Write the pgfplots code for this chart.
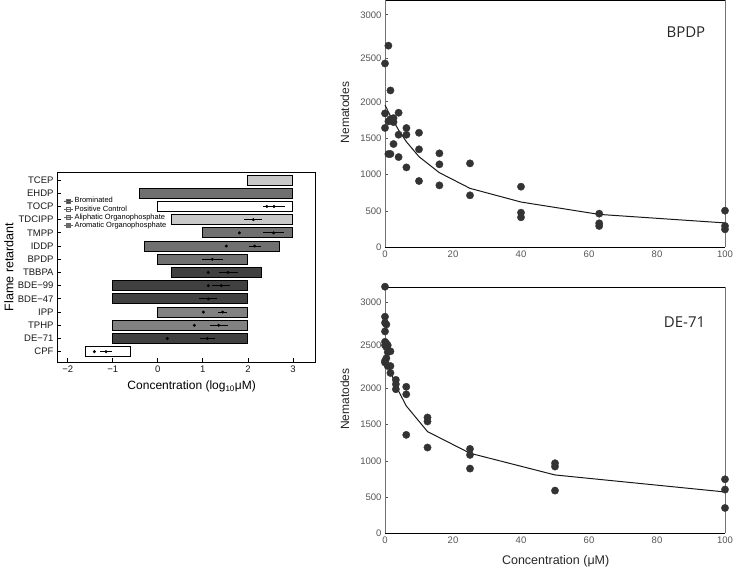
\documentclass[border=0pt]{standalone}
\usepackage{pgfplots}
\pgfplotsset{compat=1.18}
\usepackage{fontspec}
\setmainfont{Liberation Sans}
\newfontfamily\osans{Open Sans}
\definecolor{brom}{HTML}{404040}
\definecolor{arom}{HTML}{707070}
\definecolor{alip}{HTML}{C8C8C8}
\definecolor{dotc}{HTML}{333333}
\definecolor{tickgray}{HTML}{555555}

\pgfplotsset{
  rightpanel/.style={
    scale only axis, width=340pt, anchor=south west,
    xmin=0, xmax=100, ymin=0, ymax=3170,
    clip=false,
    y coord trafo/.code={\pgfmathparse{##1>2000 ? 2000+(##1-2000)*1.195 : ##1}},
    y coord inv trafo/.code={\pgfmathparse{##1>2000 ? 2000+(##1-2000)/1.195 : ##1}},
    xtick={0,20,40,60,80,100}, xticklabels={0,20,40,60,80,100},
    ytick={0,500,1000,1500,2000,2500,3000},
    yticklabels={0,500,1000,1500,2000,2500,3000},
    tick label style={font=\fontsize{9.5}{11}\selectfont, text=tickgray},
    x tick style={draw=none},
    y tick style={tickgray, line width=0.6pt},
    major tick length=3pt,
    xtick pos=bottom, ytick pos=left, tick align=inside,
    separate axis lines,
    x axis line style={black, line width=0.9pt},
    y axis line style={black!55, line width=0.9pt},
    ylabel={Nematodes},
    ylabel style={at={(axis description cs:-0.118,0.545)}, anchor=center,
      font=\fontsize{12}{14}\selectfont, text=black!85},
  },
  pts/.style={only marks, mark=*, mark size=3.7pt,
    mark options={fill=dotc, draw=dotc, line width=0.3pt}},
  fit/.style={black!90, line width=1pt, mark=none},
}

\begin{document}
\begin{tikzpicture}[x=1pt,y=1pt]
\path[use as bounding box] (0,0) rectangle (734,568);

% ---------------- left panel ----------------
\begin{axis}[
  scale only axis, width=258pt, height=190pt,
  at={(57pt,206pt)}, anchor=south west,
  xmin=-2.24, xmax=3.49, ymin=-0.78, ymax=13.61,
  xtick={-2,-1,0,1,2,3}, xticklabels={−2,−1,0,1,2,3},
  ytick={0,1,2,3,4,5,6,7,8,9,10,11,12,13},
  yticklabels={CPF,DE−71,TPHP,IPP,BDE−47,BDE−99,TBBPA,BPDP,IDDP,TMPP,TDCIPP,TOCP,EHDP,TCEP},
  tick align=inside, xtick pos=bottom, ytick pos=left, major tick length=4pt,
  tick style={black, line width=0.8pt},
  axis line style={black, line width=0.9pt},
  tick label style={font=\fontsize{9.5}{11}\selectfont, text=black!90},
  xlabel={Concentration (log\textsubscript{10}μM)},
  xlabel style={at={(axis description cs:0.522,-0.13)}, anchor=center,
    font=\fontsize{12}{14}\selectfont},
  ylabel={Flame retardant},
  ylabel style={at={(axis description cs:-0.186,0.5)}, anchor=center,
    font=\fontsize{12.5}{14}\selectfont},
  legend style={at={(axis description cs:0.027,0.872)}, anchor=north west,
    draw=none, fill=none, font=\fontsize{7.5}{8}\selectfont,
    row sep=-0.8pt, inner sep=0pt, nodes={inner sep=1pt}},
  legend cell align=left,
  legend image code/.code={\draw[#1] (2pt,-1.9pt) rectangle (5.8pt,1.9pt); \path (0pt,0pt) -- (9pt,0pt);},
]
\addlegendimage{fill=brom, draw=black!60, line width=0.4pt}
\addlegendentry{Brominated}
\addlegendimage{fill=white, draw=black!60, line width=0.4pt}
\addlegendentry{Positive Control}
\addlegendimage{fill=alip, draw=black!60, line width=0.4pt}
\addlegendentry{Aliphatic Organophosphate}
\addlegendimage{fill=arom, draw=black!60, line width=0.4pt}
\addlegendentry{Aromatic Organophosphate}

% bars: (low, high) on log10 scale
\addplot[fill=alip, draw=black, line width=0.9pt] coordinates {(2,12.62) (3,12.62) (3,13.38) (2,13.38)} -- cycle;
\addplot[fill=arom, draw=black, line width=0.9pt] coordinates {(-0.4,11.62) (3,11.62) (3,12.38) (-0.4,12.38)} -- cycle;
\addplot[fill=white, draw=black, line width=0.9pt] coordinates {(0,10.62) (3,10.62) (3,11.38) (0,11.38)} -- cycle;
\addplot[fill=alip, draw=black, line width=0.9pt] coordinates {(0.3,9.62) (3,9.62) (3,10.38) (0.3,10.38)} -- cycle;
\addplot[fill=arom, draw=black, line width=0.9pt] coordinates {(1,8.62) (3,8.62) (3,9.38) (1,9.38)} -- cycle;
\addplot[fill=arom, draw=black, line width=0.9pt] coordinates {(-0.3,7.62) (2.7,7.62) (2.7,8.38) (-0.3,8.38)} -- cycle;
\addplot[fill=arom, draw=black, line width=0.9pt] coordinates {(0,6.62) (2,6.62) (2,7.38) (0,7.38)} -- cycle;
\addplot[fill=brom, draw=black, line width=0.9pt] coordinates {(0.3,5.62) (2.3,5.62) (2.3,6.38) (0.3,6.38)} -- cycle;
\addplot[fill=brom, draw=black, line width=0.9pt] coordinates {(-1,4.62) (2,4.62) (2,5.38) (-1,5.38)} -- cycle;
\addplot[fill=brom, draw=black, line width=0.9pt] coordinates {(-1,3.62) (2,3.62) (2,4.38) (-1,4.38)} -- cycle;
\addplot[fill=arom!88!white, draw=black, line width=0.9pt] coordinates {(0,2.62) (2,2.62) (2,3.38) (0,3.38)} -- cycle;
\addplot[fill=arom!88!white, draw=black, line width=0.9pt] coordinates {(-1,1.62) (2,1.62) (2,2.38) (-1,2.38)} -- cycle;
\addplot[fill=brom, draw=black, line width=0.9pt] coordinates {(-1,0.62) (2,0.62) (2,1.38) (-1,1.38)} -- cycle;
\addplot[fill=white, draw=black, line width=0.9pt] coordinates {(-1.6,-0.38) (-0.6,-0.38) (-0.6,0.38) (-1.6,0.38)} -- cycle;

% single points
\addplot[only marks, mark=*, mark size=1.3pt, black] table[row sep=\\] {
x y \\
2.42 11 \\ 1.81 9 \\ 1.52 8 \\ 1.12 6 \\ 1.12 5 \\ 1.01 3 \\ 0.81 2 \\ 0.21 1 \\ -1.41 0 \\
};
% points with error bars
\addplot[only marks, mark=*, mark size=1.3pt, black,
  error bars/.cd, x dir=both, x explicit, error mark=none,
  error bar style={line width=0.8pt, black}]
  table[row sep=\\, x=x, y=y, x error=e] {
x y e \\
2.58 11 0.25 \\
2.12 10 0.20 \\
2.57 9 0.24 \\
2.15 8 0.13 \\
1.21 7 0.23 \\
1.56 6 0.21 \\
1.41 5 0.20 \\
1.12 4 0.20 \\
1.44 3 0.10 \\
1.35 2 0.20 \\
1.10 1 0.16 \\
-1.15 0 0.14 \\
};
\end{axis}

% ---------------- top right: BPDP ----------------
\begin{axis}[rightpanel, height=247.3pt, at={(385pt,320.7pt)}]
\addplot[pts] table[row sep=\\] {
x y \\
0 2440 \\ 0 1840 \\ 0 1640 \\
1 2645 \\ 1 1730 \\ 1 1282 \\
1.6 2130 \\ 1.6 1762 \\ 1.6 1282 \\
2.5 1775 \\ 2.5 1720 \\ 2.5 1419 \\
4 1849 \\ 4 1547 \\ 4 1240 \\
6.3 1639 \\ 6.3 1547 \\ 6.3 1098 \\
10 1574 \\ 10 1346 \\ 10 911 \\
16 1291 \\ 16 1140 \\ 16 851 \\
25 1153 \\ 25 714 \\
40 833 \\ 40 476 \\ 40 412 \\
63 462 \\ 63 330 \\ 63 293 \\
100 503 \\ 100 293 \\ 100 247 \\
};
\addplot[fit] coordinates {(0,1954) (1,1860) (1.6,1805) (2.5,1735) (4,1610) (6.3,1450) (10,1245) (16,1025) (25,810) (40,622) (63,452) (100,335)};
\node[font=\osans\fontsize{15}{18}\selectfont, text=black!85] at (axis description cs:0.885,0.87) {BPDP};
\end{axis}

% ---------------- bottom right: DE-71 ----------------
\begin{axis}[rightpanel, height=246pt, at={(385pt,34.7pt)},
  xlabel={Concentration (μM)},
  xlabel style={at={(axis description cs:0.502,-0.1126)}, anchor=center,
    font=\fontsize{12.5}{14}\selectfont, text=black!85}]
\addplot[pts] table[row sep=\\] {
x y \\
0 3177 \\ 0 2830 \\ 0 2760 \\ 0 2660 \\ 0 2540 \\ 0 2500 \\ 0 2320 \\ 0 2300 \\
0.4 2740 \\ 0.4 2520 \\ 0.4 2480 \\ 0.4 2350 \\
0.8 2500 \\ 0.8 2420 \\ 0.8 2260 \\
1.6 2430 \\ 1.6 2260 \\ 1.6 2180 \\
3.2 2100 \\ 3.2 2050 \\ 3.2 1990 \\
6.25 2020 \\ 6.25 1920 \\ 6.25 1360 \\
12.5 1600 \\ 12.5 1545 \\ 12.5 1185 \\
25 1166 \\ 25 1083 \\ 25 894 \\
50 968 \\ 50 922 \\ 50 590 \\
100 746 \\ 100 604 \\ 100 350 \\
};
\addplot[fit] coordinates {(0,2320) (0.4,2300) (0.8,2270) (1.6,2200) (3.2,2031) (6.25,1760) (12.5,1405) (25,1106) (50,806) (100,571)};
\node[font=\osans\fontsize{15}{18}\selectfont, text=black!85] at (axis description cs:0.881,0.86) {DE-71};
\end{axis}
\end{tikzpicture}
\end{document}
